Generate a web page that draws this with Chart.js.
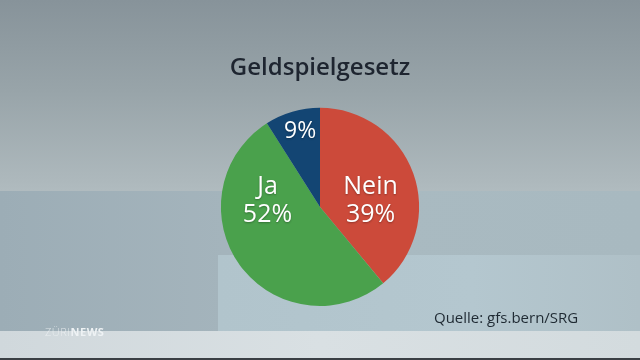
<!DOCTYPE html>
<html>
<head>
<meta charset="utf-8">
<script src="https://cdn.jsdelivr.net/npm/chart.js@4.4.1/dist/chart.umd.min.js"></script>
<style>
  html, body { margin: 0; padding: 0; }
  body {
    width: 640px; height: 360px; overflow: hidden; position: relative;
    background: linear-gradient(to bottom, #87939a 0%, #98a4a9 25%, #adb8bc 50%, #b0bbbf 53%);
    font-family: "Open Sans", sans-serif;
  }
  .band { position: absolute; }
  #band1 { left: 0; top: 191px; width: 640px; height: 140px;
    background: linear-gradient(to right, #9cadb6 0%, #a4b4bc 35%, #a9bac1 60%, #a8b9c0 100%); }
  #band2 { left: 218px; top: 255px; width: 422px; height: 76px;
    background: linear-gradient(to right, #b1c4cc 0%, #b4c7cf 60%, #afc0c7 100%); }
  #band3 { left: 0; top: 331px; width: 640px; height: 27px;
    background: linear-gradient(to right, #d0d8dc 0%, #d9e0e3 50%, #d3dbde 100%); }
  #band4 { left: 0; top: 358px; width: 640px; height: 2px; background: #3a3f44; }
  #chart-wrap { position: absolute; left: 0; top: 0; width: 640px; height: 360px; }
  #source { position: absolute; left: 434px; top: 307px; font-size: 15px; color: #1f2a33; }
  #logo { position: absolute; left: 45px; top: 324px; font-size: 11px; color: #eef2f4; letter-spacing: 0.5px; }
  #logo b { font-weight: 700; }
  #logo span { font-weight: 300; opacity: 0.8; }
</style>
</head>
<body>
<div class="band" id="band1"></div>
<div class="band" id="band2"></div>
<div class="band" id="band3"></div>
<div class="band" id="band4"></div>
<div id="chart-wrap"><canvas id="pie" width="640" height="360"></canvas></div>
<div id="source">Quelle: gfs.bern/SRG</div>
<div id="logo"><span>ZÜRI</span><b>NEWS</b></div>
<script>
const TITLE = 'Geldspielgesetz';
const categories = ['Nein', 'Ja', ''];
const shares = [39, 52, 9];
const colors = ['#cc4a3a', '#4aa14c', '#134573'];

// label anchor relative to the pie centre, in units of the radius
const labelOffsets = [
    { x: 0.51, y: -0.06 },
    { x: -0.53, y: -0.06 },
    { x: -0.20, y: -0.76 }
];

const sliceLabels = {
    id: 'sliceLabels',
    afterDatasetsDraw(chart) {
        const ctx = chart.ctx;
        const meta = chart.getDatasetMeta(0);
        ctx.save();
        ctx.fillStyle = '#ffffff';
        ctx.textAlign = 'center';
        ctx.textBaseline = 'middle';
        ctx.font = '500 25px "Open Sans", sans-serif';
        ctx.shadowColor = 'rgba(0,0,0,0.3)';
        ctx.shadowBlur = 2;
        ctx.shadowOffsetY = 1;
        meta.data.forEach((arc, i) => {
            const r = arc.outerRadius;
            const cx = arc.x + labelOffsets[i].x * r;
            const cy = arc.y + labelOffsets[i].y * r;
            const pct = shares[i] + '%';
            if (categories[i]) {
                ctx.fillText(categories[i], cx, cy - 14);
                ctx.fillText(pct, cx, cy + 14);
            } else {
                ctx.font = '500 23px "Open Sans", sans-serif';
                ctx.fillText(pct, cx, cy);
            }
        });
        ctx.restore();
    }
};

new Chart(document.getElementById('pie'), {
    type: 'pie',
    data: {
        labels: categories,
        datasets: [{
            data: shares,
            backgroundColor: colors,
            borderWidth: 0
        }]
    },
    options: {
        responsive: false,
        animation: false,
        layout: { padding: { top: 0, bottom: 54 } },
        plugins: {
            legend: { display: false },
            tooltip: { enabled: false },
            title: {
                display: true,
                text: TITLE,
                color: '#1e2530',
                font: { family: '"Open Sans", sans-serif', size: 24, weight: '600' },
                padding: { top: 54, bottom: 25 }
            }
        }
    },
    plugins: [sliceLabels]
});
</script>
</body>
</html>
